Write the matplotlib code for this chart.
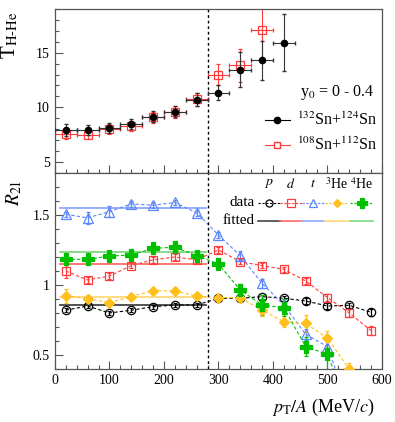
import matplotlib
matplotlib.use("Agg")
import matplotlib.pyplot as plt
import numpy as np
from matplotlib.ticker import MultipleLocator

plt.rcParams['font.family'] = ['Liberation Serif', 'DejaVu Serif']
plt.rcParams['mathtext.fontset'] = 'stix'

# top panel: T_H-He vs pT/A
pt_top = [20, 60, 100, 140, 180, 220, 260, 300, 340, 380, 420]
t_132 = [7.9, 7.9, 8.15, 8.5, 9.15, 9.6, 10.7, 11.35, 13.45, 14.3, 15.9]
t_132_err = [0.55, 0.45, 0.45, 0.45, 0.5, 0.5, 0.6, 0.7, 1.6, 1.8, 2.6]
pt_top_red = [20, 60, 100, 140, 180, 220, 260, 300, 340, 380]
t_108 = [7.55, 7.5, 8.0, 8.3, 9.1, 9.6, 10.75, 13.0, 13.85, 17.1]
t_108_err = [0.45, 0.4, 0.45, 0.45, 0.5, 0.55, 0.6, 1.0, 1.5, 3.0]
pt_xerr = 20

# bottom panel: R21 vs pT/A
pt = [20, 60, 100, 140, 180, 220, 260, 300, 340, 380, 420, 460, 500, 540, 580]
r_p = [0.82, 0.85, 0.80, 0.82, 0.845, 0.857, 0.857, 0.905, 0.905, 0.917, 0.905, 0.886, 0.85, 0.855, 0.805]
r_p_err = [0.015, 0.015, 0.015, 0.015, 0.015, 0.015, 0.015, 0.015, 0.015, 0.015, 0.02, 0.02, 0.02, 0.02, 0.025]
r_d = [1.10, 1.036, 1.064, 1.138, 1.18, 1.20, 1.18, 1.25, 1.167, 1.138, 1.112, 1.029, 0.91, 0.80, 0.674]
r_d_err = [0.05, 0.02, 0.02, 0.02, 0.02, 0.02, 0.02, 0.02, 0.02, 0.02, 0.02, 0.02, 0.025, 0.03, 0.03]
pt_t = [20, 60, 100, 140, 180, 220, 260, 300, 340, 380, 420, 460, 500, 540]
r_t = [1.505, 1.48, 1.524, 1.58, 1.57, 1.59, 1.515, 1.357, 1.21, 1.012, 0.857, 0.648, 0.56, 0.12]
r_t_err = [0.02, 0.045, 0.04, 0.02, 0.02, 0.02, 0.02, 0.02, 0.03, 0.03, 0.04, 0.04, 0.05, 0.05]
pt_he = [20, 60, 100, 140, 180, 220, 260, 300, 340, 380, 420, 460, 500, 540]
r_he3 = [0.924, 0.902, 0.874, 0.917, 0.96, 0.957, 0.922, 0.91, 0.91, 0.82, 0.738, 0.726, 0.62, 0.40]
r_he3_err = [0.05, 0.03, 0.02, 0.02, 0.02, 0.02, 0.02, 0.02, 0.02, 0.04, 0.04, 0.06, 0.05, 0.04]
r_he4 = [1.183, 1.183, 1.207, 1.214, 1.262, 1.27, 1.21, 1.15, 0.964, 0.857, 0.838, 0.56, 0.505, 0.10]
r_he4_err = [0.04, 0.02, 0.02, 0.02, 0.02, 0.03, 0.02, 0.02, 0.04, 0.07, 0.06, 0.07, 0.12, 0.1]

fit_range = [10, 278]
fit_vals = [0.857, 1.148, 1.548, 0.917, 1.233]

species = ['$p$', '$d$', '$t$', '$^{3}$He', '$^{4}$He']
data_col = ['black', '#ff3b3b', '#5b86ff', '#ffbf1f', '#00c000']
fit_col = ['#444444', '#ff6b6b', '#8eaaff', '#ffd877', '#80d880']
markers = ['o', 's', '^', 'D', 'P']
msizes = [6, 6, 6.5, 5, 8.5]
mfc = ['none', 'none', 'none', '#ffbf1f', '#00c000']

fig = plt.figure(figsize=(3.95, 4.22), dpi=100)
ax1 = fig.add_axes([0.139, 0.590, 0.828, 0.389])
ax2 = fig.add_axes([0.139, 0.1256, 0.828, 0.4644])

# top panel
ax1.errorbar(pt_top, t_132, xerr=pt_xerr, yerr=t_132_err, fmt='o', color='black',
             ms=4.5, elinewidth=0.8, capsize=1.2, ecolor='#333333', zorder=3)
ax1.errorbar(pt_top_red, t_108, xerr=pt_xerr, yerr=t_108_err, fmt='s', color='#ff3b3b',
             mfc='none', ms=5.5, mew=0.9, elinewidth=0.8, capsize=1.2, zorder=2)
ax1.axvline(280, color='black', ls=(0, (2, 2)), lw=1)
ax1.set_xlim(0, 600)
ax1.set_ylim(4, 19)
ax1.yaxis.set_major_locator(MultipleLocator(5))
ax1.yaxis.set_minor_locator(MultipleLocator(1))
ax1.xaxis.set_major_locator(MultipleLocator(100))
ax1.xaxis.set_minor_locator(MultipleLocator(20))
ax1.tick_params(which='both', direction='in', labelbottom=False, labelsize=10)
ax1.tick_params(which='major', length=6, width=0.8, color='#555555')
ax1.tick_params(which='minor', length=3, width=0.8, color='#555555')
ax1.set_ylabel(r'T$_{\mathrm{H\text{-}He}}$', fontsize=15, labelpad=8)
ax1.yaxis.set_label_coords(-0.105, 0.84)
ax1.text(0.75, 0.49, r'y$_{0}$ = 0 - 0.4', transform=ax1.transAxes, fontsize=11.5,
         ha='left', va='center')
ax1.plot([0.642, 0.719], [0.32, 0.32], color='black', lw=0.8, transform=ax1.transAxes)
ax1.plot([0.68], [0.32], 'o', color='black', ms=4.5, transform=ax1.transAxes)
ax1.text(0.74, 0.32, r'$^{132}$Sn+$^{124}$Sn', transform=ax1.transAxes, fontsize=11.5, va='center')
ax1.plot([0.642, 0.719], [0.17, 0.17], color='#ff3b3b', lw=0.8, transform=ax1.transAxes)
ax1.plot([0.68], [0.17], 's', color='#ff3b3b', mfc='white', ms=5, transform=ax1.transAxes)
ax1.text(0.74, 0.17, r'$^{108}$Sn+$^{112}$Sn', transform=ax1.transAxes, fontsize=11.5, va='center')

# bottom panel
xs = [pt, pt, pt_t, pt_he, pt_he]
ys = [r_p, r_d, r_t, r_he3, r_he4]
es = [r_p_err, r_d_err, r_t_err, r_he3_err, r_he4_err]
for i in range(5):
    ax2.plot(fit_range, [fit_vals[i]] * 2, color=fit_col[i], lw=1.3, zorder=1)
    ax2.errorbar(xs[i], ys[i], yerr=es[i], fmt=markers[i], color=data_col[i], mfc=mfc[i],
                 ms=msizes[i], mew=0.9, elinewidth=0.9, capsize=1.2, zorder=3)
    ax2.plot(xs[i], ys[i], color=data_col[i], lw=0.8, ls=(0, (3, 2)), zorder=2)
ax2.axvline(280, color='black', ls=(0, (2, 2)), lw=1)
ax2.set_xlim(0, 600)
ax2.set_ylim(0.4, 1.8)
ax2.xaxis.set_major_locator(MultipleLocator(100))
ax2.xaxis.set_minor_locator(MultipleLocator(20))
ax2.yaxis.set_major_locator(MultipleLocator(0.5))
ax2.yaxis.set_minor_locator(MultipleLocator(0.1))
ax2.yaxis.set_major_formatter(plt.FuncFormatter(lambda v, p: f'{v:g}'))
ax2.tick_params(which='both', direction='in', labelsize=10)
ax2.tick_params(which='major', length=6, width=0.8, color='#555555')
ax2.tick_params(which='minor', length=3, width=0.8, color='#555555')
ax2.set_ylabel(r'$R_{21}$', fontsize=14)
ax2.yaxis.set_label_coords(-0.095, 0.9)
ax2.set_xlabel(r'$p_{\mathrm{T}}/A$ (MeV/$c$)', fontsize=13)
ax2.xaxis.set_label_coords(0.82, -0.14)

# legend drawn by hand
col_x = [0.655, 0.722, 0.789, 0.862, 0.938]
for i in range(5):
    ax2.text(col_x[i], 0.945, species[i], transform=ax2.transAxes, fontsize=10,
             ha='center', va='center')
    ax2.plot([col_x[i] - 0.035, col_x[i] + 0.035], [0.848, 0.848], color=data_col[i], lw=0.8,
             ls=(0, (2, 1.5)), transform=ax2.transAxes)
    ax2.plot([col_x[i]], [0.848], markers[i], color=data_col[i], mfc=mfc[i],
             ms=msizes[i] * 0.85, mew=0.9, transform=ax2.transAxes)
    ax2.plot([col_x[i] - 0.035, col_x[i] + 0.035], [0.757, 0.757], color=fit_col[i], lw=1.2,
             transform=ax2.transAxes)
ax2.text(0.61, 0.848, 'data', transform=ax2.transAxes, fontsize=11, ha='right', va='center')
ax2.text(0.61, 0.757, 'fitted', transform=ax2.transAxes, fontsize=11, ha='right', va='center')

for ax in (ax1, ax2):
    for s in ax.spines.values():
        s.set_color('#555555')
        s.set_linewidth(0.9)

fig.savefig('out.png', dpi=100)
